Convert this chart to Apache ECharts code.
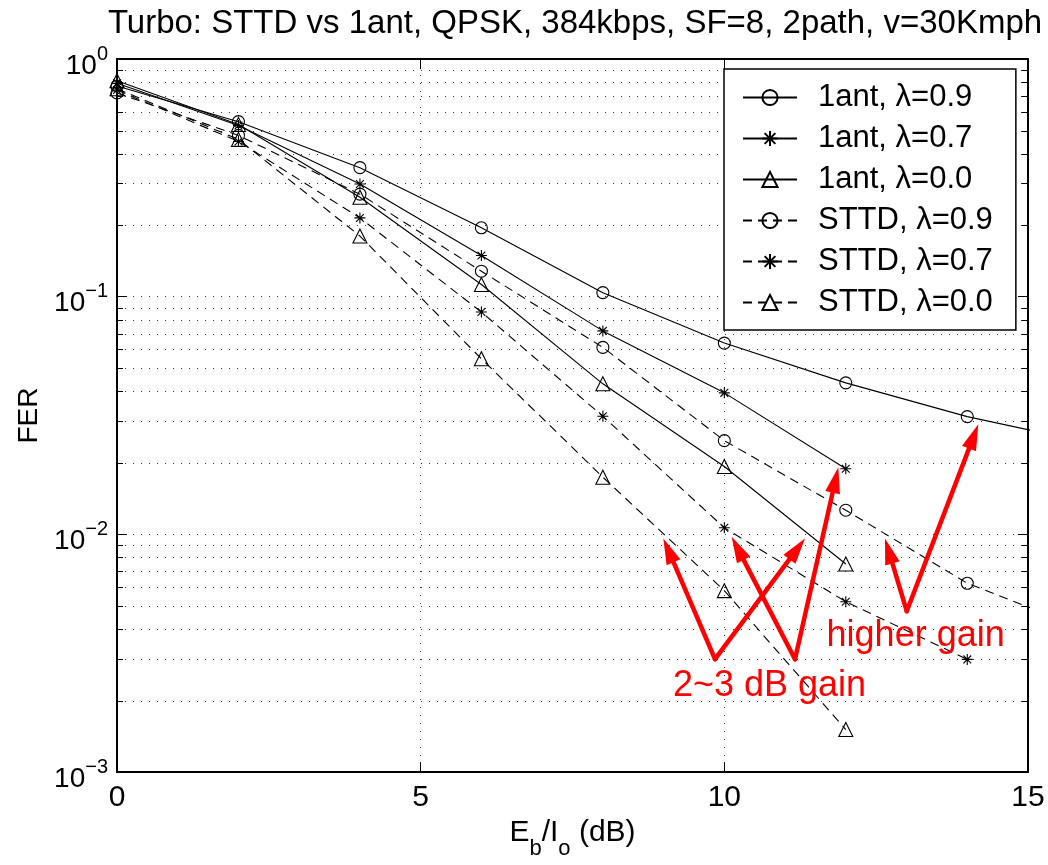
<!DOCTYPE html>
<html><head><meta charset="utf-8">
<script src="https://cdn.jsdelivr.net/npm/echarts@6/dist/echarts.min.js"></script>
<style>html,body{margin:0;padding:0;background:#fff}#c{width:1048px;height:865px}</style>
</head><body><div id="c"></div>
<script>
// ---- data ----
const ebno = [0, 2, 4, 6, 8, 10, 12, 14, 16];
const ant1_l09 = [0.77, 0.545, 0.349, 0.195, 0.104, 0.0638, 0.0434, 0.0313, 0.0243];
const ant1_l07 = [0.79, 0.525, 0.298, 0.149, 0.0718, 0.0394, 0.0189];
const ant1_l00 = [0.81, 0.530, 0.262, 0.1125, 0.0430, 0.0193, 0.00751];
const sttd_l09 = [0.72, 0.477, 0.270, 0.128, 0.0612, 0.0248, 0.01264, 0.00623, 0.00394];
const sttd_l07 = [0.74, 0.450, 0.2145, 0.0862, 0.0314, 0.01066, 0.00521, 0.00298];
const sttd_l00 = [0.75, 0.459, 0.180, 0.0548, 0.0174, 0.0058, 0.00151];
const seriesNames = ['1ant, λ=0.9', '1ant, λ=0.7', '1ant, λ=0.0', 'STTD, λ=0.9', 'STTD, λ=0.7', 'STTD, λ=0.0'];
const xTicks = [0, 5, 10, 15];
const yDecades = [0.001, 0.01, 0.1, 1];
const yMinorTicks = [0.002,0.003,0.004,0.005,0.006,0.007,0.008,0.009,
                     0.02,0.03,0.04,0.05,0.06,0.07,0.08,0.09,
                     0.2,0.3,0.4,0.5,0.6,0.7,0.8,0.9];
// annotation arrows: [xStart, yStart, xTip, yTip]
const arrows = [
  [9.846, 0.002985, 8.995, 0.00962],
  [9.846, 0.002985, 11.328, 0.00962],
  [11.164, 0.002985, 10.121, 0.00977],
  [11.164, 0.002985, 11.877, 0.01917],
  [13.003, 0.004751, 12.645, 0.00962],
  [13.003, 0.004751, 14.182, 0.02908]
];
const noteText = ['2~3 dB gain', 'higher gain'];
const notePos = [[10.744, 0.00231], [13.15, 0.003736]];

const FONT = '"Liberation Sans", Arial, Helvetica, sans-serif';
const STAR = 'path://M0,-10L0,10M-10,0L10,0M-7.07,-7.07L7.07,7.07M-7.07,7.07L7.07,-7.07';

function mk(name, ys, sym, size, dashed) {
  return {
    name: name, type: 'line', data: ys.map((v, i) => [ebno[i], v]),
    symbol: sym, symbolSize: size, showSymbol: true, clip: true, z: 4,
    lineStyle: { color: '#000', width: 1.1, type: dashed ? [9, 6] : 'solid' },
    itemStyle: { color: 'rgba(0,0,0,0)', borderColor: '#000', borderWidth: 1.1 },
    emphasis: { disabled: true }
  };
}

const chart = echarts.init(document.getElementById('c'), null, { renderer: 'canvas' });

const option = {
  animation: false,
  backgroundColor: '#fff',
  title: {
    text: 'Turbo: STTD vs 1ant, QPSK, 384kbps, SF=8, 2path, v=30Kmph',
    left: 570, textAlign: 'center', top: 2,
    textStyle: { fontFamily: FONT, fontSize: 33, fontWeight: 'normal', color: '#000' }
  },
  grid: { left: 117, right: 20, top: 59, bottom: 88, containLabel: false },
  legend: {
    data: seriesNames, orient: 'vertical', left: 724, top: 69,
    padding: [13, 23, 12, 18], itemGap: 10, itemWidth: 54, itemHeight: 19,
    backgroundColor: '#fff', borderColor: '#000', borderWidth: 1.5,
    textStyle: { fontFamily: FONT, fontSize: 31, color: '#000', padding: [0, 0, 0, 16] },
    selectedMode: false, z: 10
  },
  xAxis: [{
    type: 'value', min: 0, max: 15, interval: 5, position: 'bottom',
    name: '{m|E}{s|b}{m|/I}{s|o}{m| (dB)}', nameLocation: 'middle', nameGap: 42,
    nameTextStyle: {
      rich: {
        m: { fontFamily: FONT, fontSize: 30, color: '#000', lineHeight: 32, verticalAlign: 'top' },
        s: { fontFamily: FONT, fontSize: 22, color: '#000', lineHeight: 22, padding: [20, 0, 0, 0], verticalAlign: 'top' }
      }
    },
    axisLine: { show: true, onZero: false, lineStyle: { color: '#000', width: 2 } },
    axisTick: { show: true, inside: true, length: 10, lineStyle: { color: '#000', width: 1 } },
    axisLabel: { fontFamily: FONT, fontSize: 30, color: '#000', margin: 11 },
    splitLine: { show: true, lineStyle: { color: '#333', width: 1, type: [1, 7] } }
  }, {
    type: 'value', min: 0, max: 15, interval: 5, position: 'top',
    axisLine: { show: true, onZero: false, lineStyle: { color: '#000', width: 2 } },
    axisTick: { show: true, inside: true, length: 10, lineStyle: { color: '#000', width: 1 } },
    axisLabel: { show: false }, splitLine: { show: false }
  }],
  yAxis: [{
    type: 'log', logBase: 10, min: 0.001, max: 1, position: 'left',
    name: 'FER', nameLocation: 'middle', nameGap: 72,
    nameTextStyle: { fontFamily: FONT, fontSize: 28, color: '#000' },
    axisLine: { show: true, onZero: false, lineStyle: { color: '#000', width: 2 } },
    axisTick: { show: true, inside: true, length: 10, lineStyle: { color: '#000', width: 1 } },
    axisLabel: {
      margin: 9,
      formatter: function (v) {
        const e = Math.round(Math.log10(v));
        return '{b|10}{s|' + (e === 0 ? '0' : '\u2212' + (-e)) + '}';
      },
      rich: {
        b: { fontFamily: FONT, fontSize: 28, color: '#000', lineHeight: 30, padding: [8, 0, 8, 0], verticalAlign: 'top' },
        s: { fontFamily: FONT, fontSize: 20, color: '#000', lineHeight: 20, verticalAlign: 'top' }
      }
    },
    splitLine: { show: true, lineStyle: { color: '#333', width: 1, type: [1, 7] } }
  }, {
    type: 'log', logBase: 10, min: 0.001, max: 1, position: 'right',
    axisLine: { show: true, onZero: false, lineStyle: { color: '#000', width: 2 } },
    axisTick: { show: true, inside: true, length: 10, lineStyle: { color: '#000', width: 1 } },
    axisLabel: { show: false }, splitLine: { show: false }
  }],
  series: [
    {
      type: 'custom', name: 'minorgrid', silent: true, z: 1, clip: false,
      data: yMinorTicks.map(v => [0, v]),
      encode: { x: 0, y: 1 },
      renderItem: function (params, api) {
        const v = api.value(1);
        const a = api.coord([0, v]), b = api.coord([15, v]);
        const y = Math.round(a[1]) + 0.5;
        return { type: 'group', children: [
          { type: 'line', shape: { x1: a[0], y1: y, x2: b[0], y2: y }, style: { stroke: '#333', lineWidth: 1, lineDash: [1, 7] } },
          { type: 'line', shape: { x1: a[0], y1: y, x2: a[0] + 6, y2: y }, style: { stroke: '#000', lineWidth: 1 } },
          { type: 'line', shape: { x1: b[0], y1: y, x2: b[0] - 6, y2: y }, style: { stroke: '#000', lineWidth: 1 } }
        ] };
      }
    },
    mk(seriesNames[0], ant1_l09, 'circle', 12, false),
    mk(seriesNames[1], ant1_l07, STAR, 11, false),
    mk(seriesNames[2], ant1_l00, 'triangle', 14, false),
    mk(seriesNames[3], sttd_l09, 'circle', 12, true),
    mk(seriesNames[4], sttd_l07, STAR, 11, true),
    mk(seriesNames[5], sttd_l00, 'triangle', 14, true),
    {
      type: 'custom', name: 'arrows', silent: true, z: 6, clip: false,
      dimensions: ['x0', 'y0', 'x1', 'y1'],
      data: arrows,
      encode: { x: [0, 2], y: [1, 3] },
      renderItem: function (params, api) {
        const p0 = api.coord([api.value(0), api.value(1)]);
        const p1 = api.coord([api.value(2), api.value(3)]);
        const dx = p1[0] - p0[0], dy = p1[1] - p0[1];
        const L = Math.sqrt(dx * dx + dy * dy), ux = dx / L, uy = dy / L;
        const hl = 26, hw = 7.5;
        const bx = p1[0] - ux * hl, by = p1[1] - uy * hl;
        return { type: 'group', children: [
          { type: 'line', shape: { x1: p0[0], y1: p0[1], x2: bx + ux * 2, y2: by + uy * 2 }, style: { stroke: '#ff0000', lineWidth: 4.5, lineCap: 'round' } },
          { type: 'polygon', shape: { points: [[p1[0], p1[1]], [bx - uy * hw, by + ux * hw], [bx + uy * hw, by - ux * hw]] }, style: { fill: '#ff0000' } }
        ] };
      }
    },
    {
      type: 'custom', name: 'notes', silent: true, z: 7, clip: false,
      data: notePos, encode: { x: 0, y: 1 },
      renderItem: function (params, api) {
        const p = api.coord([api.value(0), api.value(1)]);
        return { type: 'text', x: p[0], y: p[1], style: {
          text: noteText[params.dataIndex], fill: '#ff0000', font: '36px ' + FONT,
          textAlign: 'center', textVerticalAlign: 'middle' } };
      }
    }
  ]
};
chart.setOption(option);
</script></body></html>
